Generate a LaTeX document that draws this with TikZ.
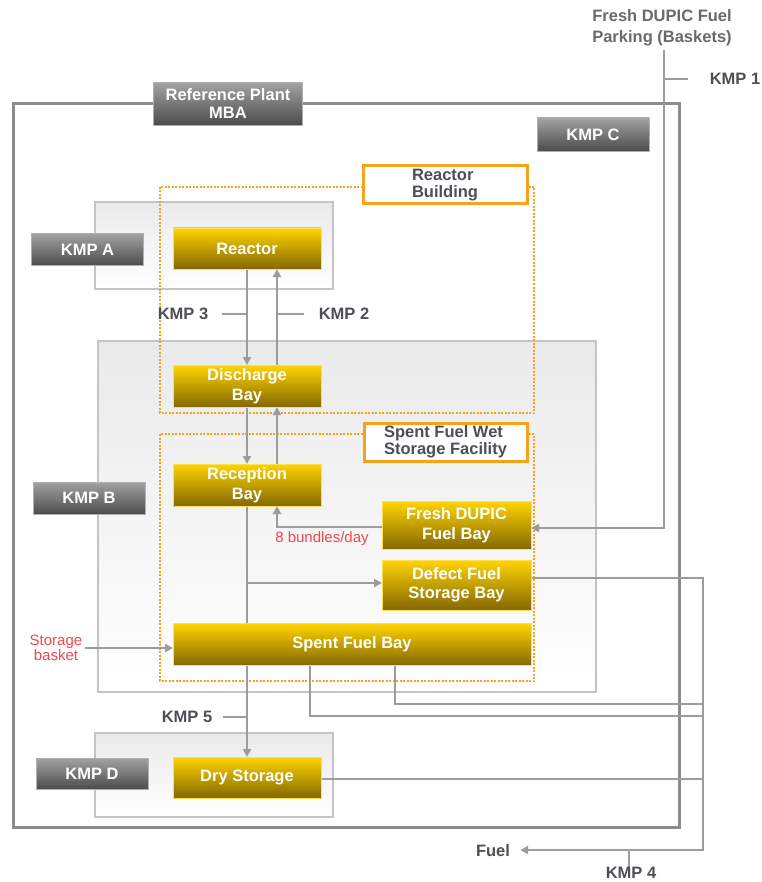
\documentclass[tikz,border=0pt]{standalone}
\usepackage{fontspec}
\setmainfont{Liberation Sans}
\usetikzlibrary{arrows.meta,calc}
\pgfdeclarelayer{bg}
\pgfdeclarelayer{mid}
\pgfsetlayers{bg,mid,main}
\definecolor{yelT}{HTML}{FFD400}
\definecolor{yelB}{HTML}{846800}
\definecolor{yelE}{HTML}{FFE050}
\definecolor{dkT}{HTML}{A2A2A2}
\definecolor{dkB}{HTML}{4C4C4C}
\definecolor{dkE}{HTML}{B0B0B0}
\definecolor{orn}{HTML}{F7A21B}
\definecolor{lineGray}{HTML}{9C9C9C}
\definecolor{mbaGray}{HTML}{8C8C8C}
\definecolor{regEdge}{HTML}{C4C4C4}
\definecolor{regTop}{HTML}{EAEAEA}
\definecolor{kmpText}{HTML}{4E4E55}
\definecolor{redText}{HTML}{F2474F}
\begin{document}
\begin{tikzpicture}[x=1pt,y=-1pt,
  ybox/.style={top color=yelT, bottom color=yelB, draw=yelE, line width=0.8pt, text=white,
    font=\bfseries\fontsize{16.5}{19.5}\selectfont, align=center, inner sep=0pt, outer sep=0pt},
  dbox/.style={top color=dkT, bottom color=dkB, draw=dkE, line width=0.8pt, text=white,
    font=\bfseries\fontsize{16.5}{18}\selectfont, align=center, inner sep=0pt, outer sep=0pt},
  obox/.style={fill=white, draw=orn, line width=3pt, text=kmpText,
    font=\bfseries\fontsize{16.5}{17}\selectfont, align=left, inner sep=0pt, outer sep=0pt},
  region/.style={draw=regEdge, line width=1.5pt, top color=regTop, bottom color=white},
  dotreg/.style={draw=orn, line width=2pt, dash pattern=on 2pt off 1.5pt},
  conn/.style={draw=lineGray, line width=2pt},
  arr/.style={conn, -{Triangle[length=8pt,width=8pt]}},
  klbl/.style={text=kmpText, font=\bfseries\fontsize{16.5}{20.5}\selectfont, align=center, inner sep=0pt},
  rlbl/.style={text=redText, font=\fontsize{15}{13.5}\selectfont, align=center, inner sep=0pt}
]
\useasboundingbox (0,0) rectangle (761,882);

% background regions
\begin{pgfonlayer}{bg}
  \draw[mbaGray, line width=3pt] (13,104) rectangle (679,827);
  \draw[region] (95,202) rectangle (333,289);
  \draw[region] (98,341) rectangle (596,692);
  \draw[region] (95,733) rectangle (333,817);
  \draw[dotreg] (160,187) rectangle (534,413);
  \draw[dotreg] (160,434) rectangle (534,681);
\end{pgfonlayer}

% dark labels
\node[dbox, minimum width=149pt, minimum height=43pt] (mba) at (228,104) {Reference Plant\\MBA};
\node[dbox, minimum width=112pt, minimum height=33pt] (kmpc) at (593,134.5) {KMP C};
\node[dbox, minimum width=112pt, minimum height=32pt] (kmpa) at (87.5,249.5) {KMP A};
\node[dbox, minimum width=112pt, minimum height=32pt] (kmpb) at (89,498) {KMP B};
\node[dbox, minimum width=112pt, minimum height=31pt] (kmpd) at (92,773.5) {KMP D};

% orange building labels
\node[obox, minimum width=164pt, minimum height=38pt] (rbl) at (445,185) {Reactor\\Building};
\node[obox, minimum width=163pt, minimum height=38pt] (sfl) at (445.5,442) {Spent Fuel Wet\\Storage Facility};

% yellow process boxes
\node[ybox, minimum width=148pt, minimum height=41pt] (reactor) at (247,248.5) {Reactor};
\node[ybox, minimum width=148pt, minimum height=42pt] (discharge) at (247,386) {Discharge\\Bay};
\node[ybox, minimum width=148pt, minimum height=42pt] (reception) at (247,485) {Reception\\Bay};
\node[ybox, minimum width=149pt, minimum height=48pt] (fresh) at (456.5,525) {Fresh DUPIC\\Fuel Bay};
\node[ybox, minimum width=149pt, minimum height=50pt] (defect) at (456.5,585) {Defect Fuel\\Storage Bay};
\node[ybox, minimum width=358pt, minimum height=42pt] (sfb) at (352,644.5) {Spent Fuel Bay};
\node[ybox, minimum width=148pt, minimum height=41pt] (dry) at (247,777.5) {Dry Storage};

% text labels
\node[klbl, text=kmpText!85] (park) at (662,28) {Fresh DUPIC Fuel\\Parking (Baskets)};
\node[klbl] (k1) at (735,79) {KMP 1};
\node[klbl] (k3) at (183,314) {KMP 3};
\node[klbl] (k2) at (344,314) {KMP 2};
\node[klbl] (k5) at (187,717) {KMP 5};
\node[klbl] (k4) at (631,873) {KMP 4};
\node[klbl] (fuel) at (493,851) {Fuel};
\node[rlbl] (bund) at (322,539) {8 bundles/day};
\node[rlbl] (sb) at (56,648) {Storage\\basket};

% named helper coordinates
\coordinate (rx) at ([xshift=30pt]reactor.south);
\coordinate (pk) at ([xshift=2pt]park.south);
\coordinate (rb) at (703,850);
\coordinate (s1) at (703,716);
\coordinate (s2) at (703,704);

% connectors
\begin{pgfonlayer}{mid}
  \draw[arr] (reactor.south) -- (discharge.north);
  \draw[arr] (discharge.south) -- (reception.north);
  \draw[arr] (reception.south) -- (dry.north);
  \draw[arr] ([yshift=2pt]reception.south |- defect.west) -- ([yshift=2pt]defect.west);
  \draw[arr] ([yshift=-2pt]fresh.west) -| ([xshift=30pt]reception.south);
  \draw[arr] ([xshift=30pt]reception.north) -- ([xshift=30pt]discharge.south);
  \draw[arr] ([xshift=30pt]discharge.north) -- (rx);
  \draw[arr] ([yshift=-4pt]park.south -| pk) |- ([yshift=-3pt]fresh.east);
  \draw[conn] (k1.west -| pk) -- ([xshift=-22pt]k1.west);
  \draw[conn] ([xshift=14pt]k3.east) -- (k3.east -| reactor.south);
  \draw[conn] (k2.west -| rx) -- ([xshift=-15pt]k2.west);
  \draw[conn] ([xshift=11pt]k5.east) -- (k5.east -| reactor.south);
  \draw[arr] ([yshift=7pt]defect.east) -| (rb) -- ([xshift=10pt]rb -| fuel.east);
  \draw[conn] ([xshift=-2pt,yshift=-7pt]k4.north) -- ([xshift=-2pt]k4.north |- rb);
  \draw[conn] ([xshift=-42pt]sfb.south) |- (s1);
  \draw[conn] ([xshift=43pt]sfb.south) |- (s2);
  \draw[conn] ([yshift=-1.5pt]dry.east) -- ([yshift=-1.5pt]dry.east -| rb);
  \draw[arr] ([xshift=3pt]sb.east) -- (sb.east -| sfb.west);
\end{pgfonlayer}
\end{tikzpicture}
\end{document}
